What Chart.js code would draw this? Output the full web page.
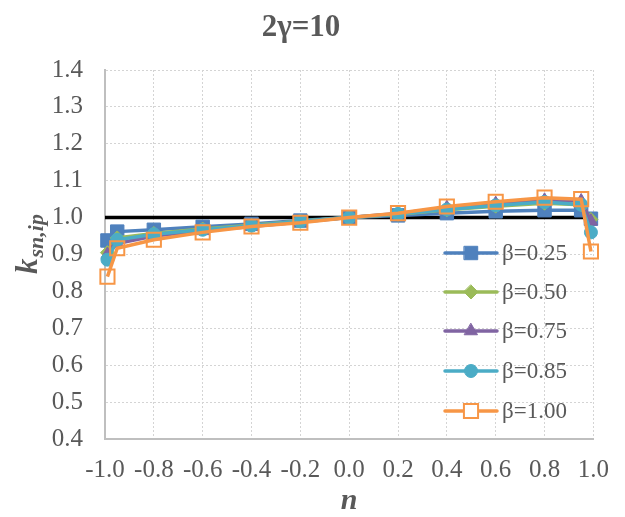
<!DOCTYPE html>
<html>
<head>
<meta charset="utf-8">
<script src="https://cdn.jsdelivr.net/npm/chart.js@4/dist/chart.umd.min.js"></script>
<style>
  html, body { margin: 0; padding: 0; background: #ffffff; }
  #wrap { width: 625px; height: 517px; position: relative; }
</style>
</head>
<body>
<div id="wrap"><canvas id="c" width="625" height="517"></canvas></div>
<script>
// ---- data ----
const nValues = [-0.99, -0.95, -0.8, -0.6, -0.4, -0.2, 0, 0.2, 0.4, 0.6, 0.8, 0.95, 0.99];
const beta025 = [0.938, 0.962, 0.967, 0.975, 0.983, 0.992, 1.0, 1.006, 1.012, 1.017, 1.020, 1.020, 0.997];
const beta050 = [0.905, 0.945, 0.957, 0.969, 0.979, 0.990, 1.0, 1.009, 1.021, 1.031, 1.039, 1.035, 0.995];
const beta075 = [0.900, 0.930, 0.950, 0.964, 0.976, 0.988, 1.0, 1.011, 1.027, 1.038, 1.047, 1.045, 0.990];
const beta085 = [0.886, 0.940, 0.955, 0.967, 0.978, 0.990, 1.0, 1.010, 1.022, 1.033, 1.042, 1.035, 0.960];
const beta100 = [0.840, 0.917, 0.940, 0.960, 0.976, 0.986, 1.0, 1.012, 1.030, 1.043, 1.054, 1.050, 0.908];
const refX = [-1.0, 1.0];
const refY = [1.0, 1.0];
const seriesLabels = ['β=0.25', 'β=0.50', 'β=0.75', 'β=0.85', 'β=1.00'];
const xTicks = [-1.0, -0.8, -0.6, -0.4, -0.2, 0.0, 0.2, 0.4, 0.6, 0.8, 1.0];
const yTicks = [0.4, 0.5, 0.6, 0.7, 0.8, 0.9, 1.0, 1.1, 1.2, 1.3, 1.4];
const chartTitle = '2γ=10';
const xTitle = 'n';
const yTitleMain = 'k';
const yTitleSub = 'sn,ip';

// ---- styles ----
const SERIF = "'Times New Roman', 'Liberation Serif', Tinos, 'DejaVu Serif', serif";
const TXT = '#595959';
const styles = [
  { color: '#4F81BD', shape: 'rect', r: 9.5, fill: '#4F81BD', bw: 1 },
  { color: '#9BBB59', shape: 'rectRot', r: 7, fill: '#9BBB59', bw: 1 },
  { color: '#8064A2', shape: 'triangle', r: 7.5, fill: '#8064A2', bw: 1 },
  { color: '#4BACC6', shape: 'circle', r: 6.5, fill: '#4BACC6', bw: 1 },
  { color: '#F79646', shape: 'rect', r: 10, fill: 'rgba(255,255,255,0)', bw: 2 }
];
const seriesValues = [beta025, beta050, beta075, beta085, beta100];

const toPts = (xs, ys) => xs.map((x, i) => ({ x: x, y: ys[i] }));

const datasets = [];
seriesValues.forEach((vals, i) => {
  const s = styles[i];
  datasets.push({
    label: seriesLabels[i],
    data: toPts(nValues, vals),
    borderColor: s.color,
    backgroundColor: s.fill,
    borderWidth: 3.5,
    pointStyle: s.shape,
    pointRadius: s.r,
    pointHoverRadius: s.r,
    pointBackgroundColor: s.fill,
    pointBorderColor: s.color,
    pointBorderWidth: s.bw,
    showLine: true,
    clip: false,
    order: 10 - i
  });
});
datasets.push({
  label: 'ref',
  data: toPts(refX, refY),
  borderColor: '#000000',
  borderWidth: 3.5,
  pointRadius: 0,
  showLine: true,
  clip: false,
  order: 100
});

function drawMarker(ctx, shape, x, y, r, fill, stroke, bw) {
  ctx.save();
  ctx.fillStyle = fill; ctx.strokeStyle = stroke; ctx.lineWidth = bw;
  ctx.beginPath();
  if (shape === 'rect') {
    const s = r * Math.SQRT1_2;
    ctx.rect(x - s, y - s, 2 * s, 2 * s);
  } else if (shape === 'rectRot') {
    ctx.moveTo(x, y - r); ctx.lineTo(x + r, y); ctx.lineTo(x, y + r); ctx.lineTo(x - r, y); ctx.closePath();
  } else if (shape === 'triangle') {
    const a = Math.PI / 2;
    ctx.moveTo(x + Math.cos(-a) * r, y + Math.sin(-a) * r);
    ctx.lineTo(x + Math.cos(-a + 2 * Math.PI / 3) * r, y + Math.sin(-a + 2 * Math.PI / 3) * r);
    ctx.lineTo(x + Math.cos(-a + 4 * Math.PI / 3) * r, y + Math.sin(-a + 4 * Math.PI / 3) * r);
    ctx.closePath();
  } else {
    ctx.arc(x, y, r, 0, Math.PI * 2);
  }
  ctx.fill();
  if (bw > 0) ctx.stroke();
  ctx.restore();
}

const decorPlugin = {
  id: 'decor',
  afterDraw(chart) {
    const ctx = chart.ctx;
    const area = chart.chartArea;
    ctx.save();
    // title
    ctx.fillStyle = TXT;
    ctx.font = 'bold 31px ' + SERIF;
    ctx.textAlign = 'center';
    ctx.textBaseline = 'middle';
    ctx.fillText(chartTitle, 301, 28);
    // x title
    ctx.font = 'italic bold 30px ' + SERIF;
    ctx.fillText(xTitle, (area.left + area.right) / 2, 501);
    // y title (rotated with subscript)
    ctx.save();
    ctx.translate(37, 274);
    ctx.rotate(-Math.PI / 2);
    ctx.textAlign = 'left';
    ctx.textBaseline = 'alphabetic';
    ctx.font = 'italic bold 31px ' + SERIF;
    ctx.fillText(yTitleMain, 0, 0);
    const w = ctx.measureText(yTitleMain).width;
    ctx.font = 'italic bold 22px ' + SERIF;
    ctx.fillText(yTitleSub, w + 1, 6);
    ctx.restore();
    // legend
    const x0 = 445, x1 = 497, xm = 471, xt = 502;
    const ys = [253, 292, 331, 371, 411];
    ctx.font = '23px ' + SERIF;
    ctx.textAlign = 'left';
    ctx.textBaseline = 'middle';
    styles.forEach((s, i) => {
      const y = ys[i];
      ctx.strokeStyle = s.color;
      ctx.lineWidth = 3.5;
      ctx.lineCap = 'round';
      ctx.beginPath(); ctx.moveTo(x0, y); ctx.lineTo(x1, y); ctx.stroke();
      drawMarker(ctx, s.shape, xm, y, s.r, s.fill === 'rgba(255,255,255,0)' ? '#ffffff' : s.fill, s.color, s.bw);
      ctx.fillStyle = TXT;
      ctx.fillText(seriesLabels[i], xt, y + 1);
    });
    ctx.restore();
  }
};

new Chart(document.getElementById('c'), {
  type: 'scatter',
  data: { datasets: datasets },
  plugins: [decorPlugin],
  options: {
    responsive: false,
    animation: false,
    events: [],
    layout: { padding: { left: 0, right: 30, top: 70, bottom: 0 } },
    plugins: {
      legend: { display: false },
      title: { display: false },
      tooltip: { enabled: false }
    },
    scales: {
      x: {
        type: 'linear',
        min: -1, max: 1,
        afterBuildTicks: (scale) => { scale.ticks = xTicks.map(v => ({ value: v })); },
        afterFit: (scale) => { scale.height = 78; },
        ticks: {
          color: TXT,
          font: { family: SERIF, size: 25 },
          padding: 16,
          maxRotation: 0,
          autoSkip: false,
          callback: (v) => Number(v).toFixed(1)
        },
        grid: { color: '#d4d4d4', drawTicks: false, lineWidth: 1 },
        border: { display: true, color: '#bfbfbf', width: 2, dash: [2, 2] }
      },
      y: {
        type: 'linear',
        min: 0.4, max: 1.4,
        afterBuildTicks: (scale) => { scale.ticks = yTicks.map(v => ({ value: v })); },
        afterFit: (scale) => { scale.width = 105; },
        ticks: {
          color: TXT,
          font: { family: SERIF, size: 25 },
          padding: 22,
          autoSkip: false,
          callback: (v) => Number(v).toFixed(1)
        },
        grid: { color: '#d4d4d4', drawTicks: false, lineWidth: 1 },
        border: { display: true, color: '#bfbfbf', width: 2, dash: [2, 2] }
      }
    }
  }
});
</script>
</body>
</html>
